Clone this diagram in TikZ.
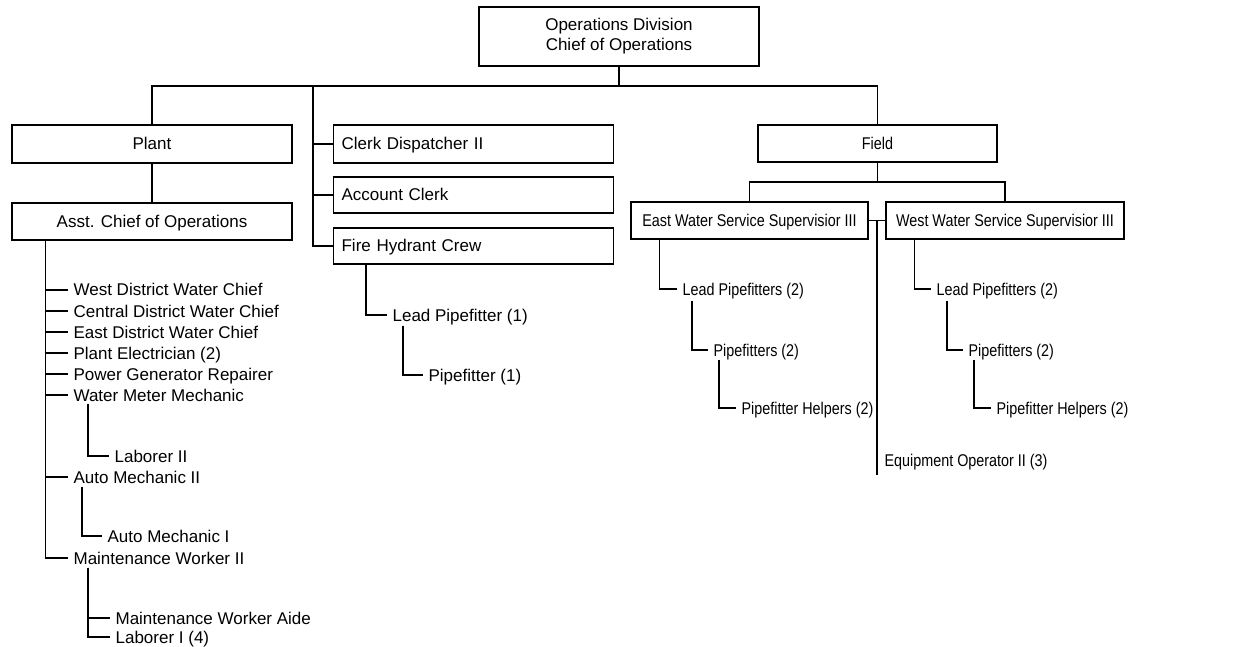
\documentclass[tikz,border=0pt]{standalone}
\usepackage{fontspec}
\setmainfont{Liberation Sans}
\usetikzlibrary{calc}
\newcommand\serre[1]{\scalebox{0.845}[1]{#1}}
\begin{document}
\begin{tikzpicture}[x=1pt, y=-1pt, line width=1.2pt,
  every node/.style={font=\fontsize{17}{20}\selectfont},
  boite/.style={draw, inner sep=0pt, text height=12pt, text depth=0pt},
  boitg/.style={boite, anchor=west, inner xsep=8pt, text width=264pt, align=left},
  titre/.style={anchor=west, inner xsep=5.5pt, inner ysep=0pt, text height=12pt, text depth=0pt}]
\useasboundingbox (0,0) rectangle (1235,647);
% boxes
\node[draw, minimum width=280pt, minimum height=59pt, align=center] (ops) at (619,36.5)
  {Operations Division\\Chief of Operations};
\node[boite, minimum width=280pt, minimum height=38pt] (plant) at (152,144) {Plant};
\node[boite, minimum width=280pt, minimum height=37pt] (asst) at (152,221.5) {Asst. Chief of Operations};
\node[boitg, minimum height=38pt] (clerk) at (333,144) {Clerk Dispatcher II};
\node[boitg, minimum height=36pt] (acct) at (333,195) {Account Clerk};
\node[boitg, minimum height=36pt] (fire) at (333,246) {Fire Hydrant Crew};
\node[boite, minimum width=239pt, minimum height=37pt] (field) at (877.5,143.5) {\serre{Field}};
\node[boite, minimum width=237pt, minimum height=37pt] (east) at (749.5,220.5) {\serre{East Water Service Supervisior III}};
\node[boite, minimum width=238pt, minimum height=37pt] (west) at (1005,220.5) {\serre{West Water Service Supervisior III}};
% plant staff
\foreach \n/\x/\y/\t in {wdc/67.5/290/West District Water Chief, cdc/67.5/311/Central District Water Chief,
    edc/67.5/332/East District Water Chief, pel/67.5/353/Plant Electrician (2),
    pgr/67.5/374/Power Generator Repairer, wmm/67.5/395/Water Meter Mechanic,
    lab2/108.5/456/Laborer II, am2/67.5/477/Auto Mechanic II, am1/101.5/536/Auto Mechanic I,
    mw2/67.5/558/Maintenance Worker II, mwa/109.5/618/Maintenance Worker Aide, lab1/109.5/637/Laborer I (4),
    lp1/386.5/315/Lead Pipefitter (1), pf1/422.5/375/Pipefitter (1)}
  \node[titre] (\n) at (\x,\y) {\t};
% field staff
\foreach \n/\x/\y/\t in {elp/676.5/289/Lead Pipefitters (2), epf/707.5/350/Pipefitters (2),
    eph/735.5/408/Pipefitter Helpers (2), wlp/930.5/289/Lead Pipefitters (2),
    wpf/962.5/350/Pipefitters (2), wph/990.5/408/Pipefitter Helpers (2),
    eqop/878.5/460/Equipment Operator II (3)}
  \node[titre] (\n) at (\x,\y) {\serre{\t}};
% top level
\coordinate (cspine) at (313,86);
\draw (ops.south) -- (ops.south |- cspine);
\draw (plant.north) |- (cspine) -| (field.north);
\foreach \n in {clerk,acct,fire}
  \draw (cspine) |- (\n.west);
\draw (plant) -- (asst);
% plant
\coordinate (trunk) at ([xshift=34]asst.south west);
\foreach \n in {wdc,cdc,edc,pel,pgr,wmm,am2,mw2}
  \draw (trunk) |- (\n.west);
\draw ([shift={(20.5,2)}]wmm.south west) |- (lab2.west);
\draw ([shift={(14.5,3)}]am2.south west) |- (am1.west);
\draw ([shift={(20.5,3)}]mw2.south west) |- (lab1.west);
\draw ([shift={(20.5,3)}]mw2.south west) |- (mwa.west);
\draw ([xshift=33]fire.south west) |- (lp1.west);
\draw ([shift={(16.5,4)}]lp1.south west) |- (pf1.west);
% field
\draw (field.south) -- ++(0,19.5) coordinate (fbus);
\draw (east.north) |- (fbus) -| (west.north);
\draw (east.east) -- (west.west);
\coordinate (eqtop) at ($(east.east)!.5!(west.west)$);
\draw (eqtop) -- ++(0,254.5);
\draw ([xshift=29]east.south west) |- (elp.west);
\draw ([shift={(15.5,5)}]elp.south west) |- (epf.west);
\draw ([shift={(11.5,3)}]epf.south west) |- (eph.west);
\draw ([xshift=29]west.south west) |- (wlp.west);
\draw ([shift={(16.5,5)}]wlp.south west) |- (wpf.west);
\draw ([shift={(11.5,3)}]wpf.south west) |- (wph.west);
\end{tikzpicture}
\end{document}
